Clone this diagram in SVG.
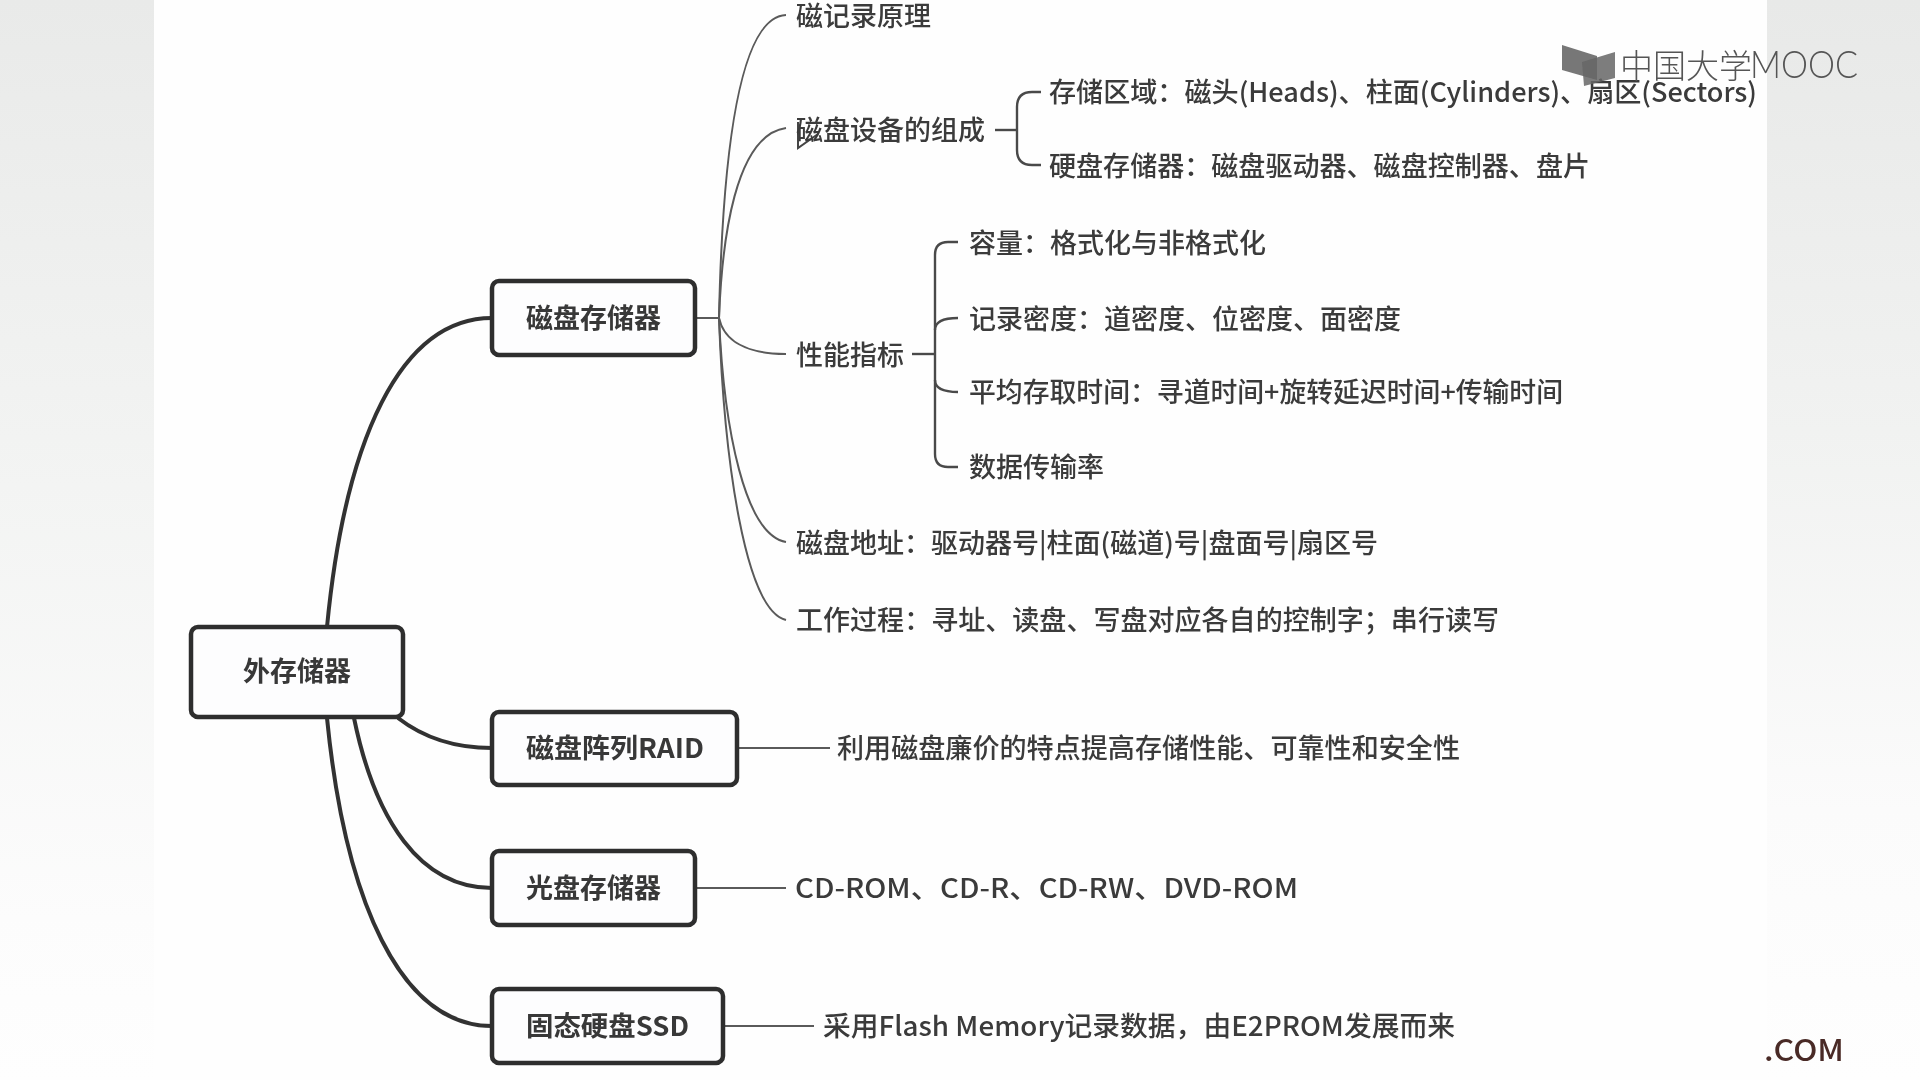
<svg xmlns="http://www.w3.org/2000/svg" width="1920" height="1080" viewBox="0 0 1920 1080">
<defs>
<linearGradient id="bandL" x1="0" y1="0" x2="0" y2="1"><stop offset="0" stop-color="#e9eae9"/><stop offset="0.45" stop-color="#f3f4f3"/><stop offset="0.85" stop-color="#fcfcfc"/><stop offset="1" stop-color="#fefefe"/></linearGradient>
<linearGradient id="bandR" x1="0" y1="0" x2="0" y2="1"><stop offset="0" stop-color="#e8e9e8"/><stop offset="0.4" stop-color="#f1f2f1"/><stop offset="0.75" stop-color="#fbfbfb"/><stop offset="1" stop-color="#fefefe"/></linearGradient>
<filter id="soft" x="0" y="0" width="1920" height="1080" filterUnits="userSpaceOnUse"><feGaussianBlur stdDeviation="0.6"/></filter>
</defs>
<style>
text{font-family:"Noto Sans CJK SC","Noto Sans",sans-serif;font-size:27px;font-weight:500;fill:#3a3a3a}
.box{fill:#fdfdfe;stroke:#2e2e2e;stroke-width:4.5}
.bt{font-weight:700;fill:#383838}
.thick{fill:none;stroke:#333;stroke-width:4}
.thin{fill:none;stroke:#5a5a5a;stroke-width:2}
.mid{fill:none;stroke:#4a4a4a;stroke-width:2.4}
</style>
<rect width="1920" height="1080" fill="#fefefe"/>
<rect x="0" y="0" width="154" height="1080" fill="url(#bandL)"/>
<rect x="1767" y="0" width="153" height="1080" fill="url(#bandR)"/>
<g filter="url(#soft)">
<g id="connectors">
<path class="thick" d="M327 627C345 440 400 318 492 318"/>
<path class="thick" d="M398 718C420 735 450 748 492 748"/>
<path class="thick" d="M354 718C375 820 420 888 492 888"/>
<path class="thick" d="M327 718C345 900 400 1026 492 1026"/>
<path class="thin" d="M695 318H719"/>
<path class="thin" d="M719 318C722 180 735 17 786 15"/>
<path class="thin" d="M719 318C722 240 735 135 786 128"/>
<path class="thin" d="M719 318C724 340 745 354 786 354"/>
<path class="thin" d="M719 318C724 430 745 535 786 542"/>
<path class="thin" d="M719 318C724 460 745 610 786 620"/>
<path class="thin" d="M737 748H830"/>
<path class="thin" d="M695 888H786"/>
<path class="thin" d="M723 1026H814"/>
<path class="mid" d="M995 130H1017"/>
<path class="mid" d="M1041 92H1032Q1017 92 1017 107V150Q1017 165 1032 165H1041"/>
<path class="mid" d="M912 354H935"/>
<path class="mid" d="M958 242H948Q935 242 935 255V454Q935 467 948 467H958"/>
<path class="mid" d="M935 330Q935 318 958 318"/>
<path class="mid" d="M935 380Q935 392 958 392"/>
<path fill="none" stroke="#444" stroke-width="2" d="M798 122V148L818 134"/>
</g>
<g id="root"><rect class="box" x="191" y="627" width="212" height="90" rx="7"/><text class="bt" x="297" y="681" text-anchor="middle">外存储器</text></g>
<g id="disk"><rect class="box" x="492" y="281" width="203" height="74" rx="7"/><text class="bt" x="526" y="328">磁盘存储器</text></g>
<g id="raid"><rect class="box" x="492" y="712" width="245" height="73" rx="7"/><text class="bt" x="526" y="758" textLength="178" lengthAdjust="spacingAndGlyphs">磁盘阵列RAID</text></g>
<g id="optical"><rect class="box" x="492" y="851" width="203" height="74" rx="7"/><text class="bt" x="526" y="898">光盘存储器</text></g>
<g id="ssd"><rect class="box" x="492" y="989" width="231" height="74" rx="7"/><text class="bt" x="526" y="1036" textLength="163" lengthAdjust="spacingAndGlyphs">固态硬盘SSD</text></g>
<g id="n-principle"><text x="796" y="26">磁记录原理</text></g>
<g id="n-parts"><text x="796" y="140">磁盘设备的组成</text></g>
<g id="n-area"><text x="1049" y="102" textLength="708" lengthAdjust="spacingAndGlyphs">存储区域：磁头(Heads)、柱面(Cylinders)、扇区(Sectors)</text></g>
<g id="n-hdd"><text x="1049" y="176" textLength="541" lengthAdjust="spacingAndGlyphs">硬盘存储器：磁盘驱动器、磁盘控制器、盘片</text></g>
<g id="n-perf"><text x="796" y="365">性能指标</text></g>
<g id="n-cap"><text x="969" y="253">容量：格式化与非格式化</text></g>
<g id="n-density"><text x="969" y="329">记录密度：道密度、位密度、面密度</text></g>
<g id="n-time"><text x="969" y="402" textLength="594" lengthAdjust="spacingAndGlyphs">平均存取时间：寻道时间+旋转延迟时间+传输时间</text></g>
<g id="n-rate"><text x="969" y="477">数据传输率</text></g>
<g id="n-addr"><text x="796" y="553">磁盘地址：驱动器号|柱面(磁道)号|盘面号|扇区号</text></g>
<g id="n-work"><text x="796" y="630" textLength="703" lengthAdjust="spacingAndGlyphs">工作过程：寻址、读盘、写盘对应各自的控制字；串行读写</text></g>
<g id="n-raid"><text x="837" y="758" textLength="623" lengthAdjust="spacingAndGlyphs">利用磁盘廉价的特点提高存储性能、可靠性和安全性</text></g>
<g id="n-cd"><text x="795" y="898" textLength="503" lengthAdjust="spacingAndGlyphs">CD-ROM、CD-R、CD-RW、DVD-ROM</text></g>
<g id="n-ssd"><text x="823" y="1036" textLength="632" lengthAdjust="spacingAndGlyphs">采用Flash Memory记录数据，由E2PROM发展而来</text></g>
<g id="watermark">
<polygon points="1562,45 1597,56 1597,80 1562,70" fill="#777"/>
<polygon points="1582,62 1615,52 1615,78 1584,86" fill="#666" fill-opacity="0.85"/>
<text x="1620" y="78" style="font-size:33px;font-weight:300;fill:#555">中国大学</text>
<text x="1750" y="78" style="font-family:Lato,'Noto Sans',sans-serif;font-size:37px;font-weight:300;fill:#555" textLength="108" lengthAdjust="spacingAndGlyphs">MOOC</text>
</g>
<text x="1764" y="1061" style="font-size:30px;fill:#4a2c28" textLength="80" lengthAdjust="spacingAndGlyphs">.COM</text>
</g>
</svg>
